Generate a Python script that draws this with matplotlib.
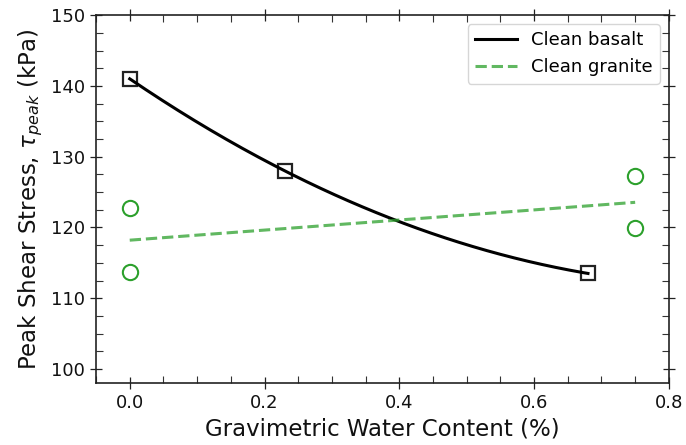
import numpy as np
import matplotlib
matplotlib.use("Agg")
import matplotlib.pyplot as plt
from matplotlib.ticker import MultipleLocator

# Data
basalt_w = [0.0, 0.23, 0.68]
basalt_tau = [141.0, 128.0, 113.5]
granite_w = [0.0, 0.0, 0.75, 0.75]
granite_tau = [122.7, 113.7, 127.2, 119.9]

xticks = [0.0, 0.2, 0.4, 0.6, 0.8]
yticks = [100, 110, 120, 130, 140, 150]

fig = plt.figure(figsize=(6.86, 4.45), dpi=100)
ax = fig.add_axes([0.140, 0.139, 0.835, 0.827])

green = '#2ca02c'

# fits computed from the data
pb = np.polyfit(basalt_w, basalt_tau, 2)
xb = np.linspace(min(basalt_w), max(basalt_w), 200)
pg = np.polyfit(granite_w, granite_tau, 1)
xg = np.linspace(min(granite_w), max(granite_w), 100)

ax.plot(basalt_w, basalt_tau, ls='none', marker='s', ms=10, mfc='none',
        mec='#222222', mew=1.6, zorder=3)
ax.plot(xb, np.polyval(pb, xb), color='black', lw=2.2, label='Clean basalt', zorder=4)
ax.plot(granite_w, granite_tau, ls='none', marker='o', ms=11, mfc='none',
        mec=green, mew=1.5, zorder=3)
ax.plot(xg, np.polyval(pg, xg), color=green, alpha=0.75, lw=2.2, ls='--',
        label='Clean granite', zorder=4)

ax.set_xlim(-0.05, 0.8)
ax.set_ylim(98, 150)
ax.set_xticks(xticks)
ax.set_yticks(yticks)
ax.xaxis.set_minor_locator(MultipleLocator(0.05))
ax.yaxis.set_minor_locator(MultipleLocator(2.5))
ax.tick_params(which='major', direction='inout', length=9, width=0.9,
               top=True, right=True, labelsize=13, colors='#222222', labelcolor='#111111')
ax.tick_params(which='minor', direction='in', length=5, width=0.8,
               top=True, right=True, colors='#333333')
for s in ax.spines.values():
    s.set_linewidth(1.2)
    s.set_color('#222222')

ax.set_xlabel('Gravimetric Water Content (%)', fontsize=16.5, color='#111111')
ax.set_ylabel(r'Peak Shear Stress, $\tau_{peak}$ (kPa)', fontsize=16.5, color='#111111')

ax.legend(loc='upper right', fontsize=13, handlelength=2.3)

fig.savefig('out.png', dpi=100)
